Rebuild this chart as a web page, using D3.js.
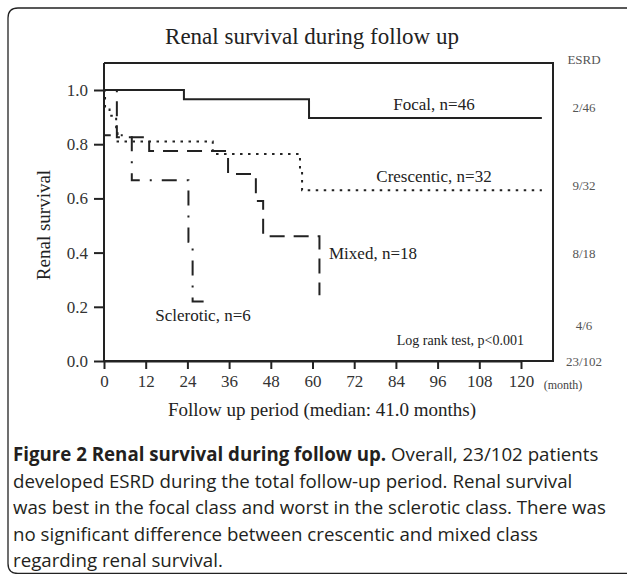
<!DOCTYPE html>
<html>
<head>
<meta charset="utf-8">
<script src="https://cdn.jsdelivr.net/npm/d3@7"></script>
<style>
  body { margin: 0; background: #fff; }
  svg { display: block; }
</style>
</head>
<body>
<div id="chart"></div>
<script>
// Kaplan-Meier steps (months, survival)
const focalMonths = [0, 23, 59, 126];
const focalSurv = [1.0, 0.966, 0.897, 0.897];

const crescenticMonths = [0, 0.3, 1.6, 3.5, 3.9, 31.3, 56.4, 57, 126];
const crescenticSurv = [1.0, 0.935, 0.905, 0.84, 0.81, 0.764, 0.70, 0.63, 0.63];

const mixedMonths = [0, 3.7, 13, 35.7, 43.7, 45.8, 62];
const mixedSurv = [1.0, 0.826, 0.775, 0.69, 0.59, 0.46, 0.243];

const scleroticMonths = [0, 0, 8, 24.3, 25.5, 29];
const scleroticSurv = [1.0, 0.833, 0.667, 0.44, 0.22, 0.22];

const seriesLabels = ["Focal, n=46", "Crescentic, n=32", "Mixed, n=18", "Sclerotic, n=6"];
const esrdLabels = ["2/46", "9/32", "8/18", "4/6", "23/102"];
const xTicks = [0, 12, 24, 36, 48, 60, 72, 84, 96, 108, 120];
const yTicks = [0.0, 0.2, 0.4, 0.6, 0.8, 1.0];

const width = 627;
const height = 574;
const serif = "'Liberation Serif', 'DejaVu Serif', serif";
const sans = "'Open Sans', 'Noto Sans', sans-serif";

const svg = d3.select("#chart")
  .append("svg")
  .attr("width", width)
  .attr("height", height);

// rounded figure frame (runs off to the right)
svg.append("path")
  .attr("d", "M640,573.5 L18,573.5 Q8,573.5 8,563.5 L8,18 Q8,8 18,8 L640,8")
  .attr("fill", "none")
  .attr("stroke", "#222")
  .attr("stroke-width", 1.3);

// scales
const x = d3.scaleLinear().domain([0, 120]).range([104, 521]);
const y = d3.scaleLinear().domain([0, 1]).range([361, 90]);
const plotRight = 553;
const plotTop = 63;

const ink = "#222";

// title
svg.append("text")
  .attr("x", 312).attr("y", 44)
  .attr("text-anchor", "middle")
  .style("font-family", serif).style("font-size", "23px").attr("fill", ink)
  .text("Renal survival during follow up");

// box: top and right edges
svg.append("path")
  .attr("d", `M${x(0)},${plotTop} L${plotRight},${plotTop} L${plotRight},${y(0)} L${x(0)},${y(0)}`)
  .attr("fill", "none").attr("stroke", ink).attr("stroke-width", 2);

// axes
const xAxis = svg.append("g")
  .attr("transform", `translate(0,${y(0)})`)
  .call(d3.axisBottom(x).tickValues(xTicks).tickSize(8).tickSizeOuter(0).tickPadding(6));
const yAxis = svg.append("g")
  .attr("transform", `translate(${x(0)},0)`)
  .call(d3.axisLeft(y).tickValues(yTicks).tickFormat(d3.format(".1f")).tickSize(10).tickSizeOuter(0).tickPadding(6));

[xAxis, yAxis].forEach((g) => {
  g.select(".domain").attr("stroke", ink).attr("stroke-width", 2);
  g.selectAll(".tick line").attr("stroke", ink).attr("stroke-width", 2);
  g.selectAll(".tick text")
    .style("font-family", serif).style("font-size", "17px").attr("fill", "#333");
});
// y axis runs up to the frame top
yAxis.select(".domain").attr("d", `M0,${y(0)}V${plotTop}`);

svg.append("text")
  .attr("x", 563).attr("y", y(0) + 28)
  .attr("text-anchor", "middle")
  .style("font-family", serif).style("font-size", "12px").attr("fill", "#444")
  .text("(month)");

// axis titles
svg.append("text")
  .attr("x", 322).attr("y", 416)
  .attr("text-anchor", "middle")
  .style("font-family", serif).style("font-size", "19px").attr("fill", ink)
  .text("Follow up period (median: 41.0 months)");

svg.append("text")
  .attr("transform", "translate(50,225) rotate(-90)")
  .attr("text-anchor", "middle")
  .style("font-family", serif).style("font-size", "19px").attr("fill", ink)
  .text("Renal survival");

// survival curves
const line = d3.line()
  .x((d) => x(d[0]))
  .y((d) => y(d[1]))
  .curve(d3.curveStepAfter);

const curves = [
  { months: focalMonths, surv: focalSurv, dash: null },
  { months: crescenticMonths, surv: crescenticSurv, dash: "2.5,5.5" },
  { months: mixedMonths, surv: mixedSurv, dash: "15,9" },
  { months: scleroticMonths, surv: scleroticSurv, dash: "15,10,2,10" }
];

curves.forEach((c) => {
  svg.append("path")
    .datum(d3.zip(c.months, c.surv))
    .attr("d", line)
    .attr("fill", "none")
    .attr("stroke", ink)
    .attr("stroke-width", 2)
    .attr("stroke-dasharray", c.dash);
});

// curve labels
const labelFont = (sel) => sel.style("font-family", serif).style("font-size", "17px").attr("fill", ink);
svg.append("text").attr("x", 434).attr("y", 110).attr("text-anchor", "middle").call(labelFont).text(seriesLabels[0]);
svg.append("text").attr("x", 434).attr("y", 182).attr("text-anchor", "middle").call(labelFont).text(seriesLabels[1]);
svg.append("text").attr("x", 329).attr("y", 259).attr("text-anchor", "start").call(labelFont).text(seriesLabels[2]);
svg.append("text").attr("x", 203).attr("y", 321).attr("text-anchor", "middle").call(labelFont).text(seriesLabels[3]);

svg.append("text")
  .attr("x", 524).attr("y", 345)
  .attr("text-anchor", "end")
  .style("font-family", serif).style("font-size", "14px").attr("fill", ink)
  .text("Log rank test, p<0.001");

// ESRD column
const esrdY = [108, 186, 254, 326, 362];
svg.append("text")
  .attr("x", 584).attr("y", 64)
  .attr("text-anchor", "middle")
  .style("font-family", serif).style("font-size", "13px").attr("fill", "#555")
  .text("ESRD");
esrdLabels.forEach((t, i) => {
  svg.append("text")
    .attr("x", 584).attr("y", esrdY[i] + 4)
    .attr("text-anchor", "middle")
    .style("font-family", serif).style("font-size", "13px").attr("fill", "#555")
    .text(t);
});

// caption
const caption = [
  [["Figure 2 Renal survival during follow up.", true], [" Overall, 23/102 patients", false]],
  [["developed ESRD during the total follow-up period. Renal survival", false]],
  [["was best in the focal class and worst in the sclerotic class. There was", false]],
  [["no significant difference between crescentic and mixed class", false]],
  [["regarding renal survival.", false]]
];
caption.forEach((parts, i) => {
  const t = svg.append("text")
    .attr("x", 13).attr("y", 461 + i * 26.6)
    .style("font-family", sans).style("font-size", "18.7px").attr("fill", "#231f20");
  parts.forEach(([s, bold]) => {
    t.append("tspan").attr("font-weight", bold ? "bold" : "normal").text(s);
  });
});
</script>
</body>
</html>
